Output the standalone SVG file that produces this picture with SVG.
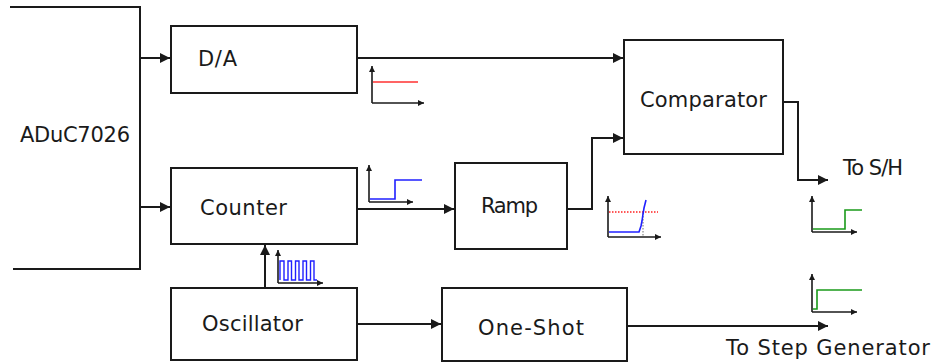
<svg xmlns="http://www.w3.org/2000/svg" width="935" height="364" viewBox="0 0 935 364">
<defs>
<style>
.box{fill:#fff;stroke:#1a1a1a;stroke-width:2}
.ln{fill:none;stroke:#1a1a1a;stroke-width:2}
.ax{fill:none;stroke:#1a1a1a;stroke-width:1.6}
.lbl{font-family:"DejaVu Sans","Liberation Sans",sans-serif;font-size:21px;fill:#1a1a1a}
</style>
<marker id="ah" viewBox="0 0 10 10" refX="10" refY="5" markerWidth="5" markerHeight="6" markerUnits="strokeWidth" orient="auto">
<path d="M0,0 L10,5 L0,10 Z" fill="#1a1a1a"/>
</marker>
<marker id="sh" viewBox="0 0 10 10" refX="10" refY="5" markerWidth="4" markerHeight="4" markerUnits="strokeWidth" orient="auto">
<path d="M0,0 L10,5 L0,10 Z" fill="#1a1a1a"/>
</marker>
</defs>
<rect width="935" height="364" fill="#fff"/>

<g id="adu">
<path class="ln" d="M10,7 H140 V269 H13"/>
<text class="lbl" x="20" y="142" textLength="110" lengthAdjust="spacing">ADuC7026</text>
</g>
<g id="da">
<rect class="box" x="171" y="26" width="186" height="67"/>
<text class="lbl" x="198" y="66" textLength="39" lengthAdjust="spacing">D/A</text>
</g>
<g id="counter">
<rect class="box" x="171" y="168" width="186" height="76"/>
<text class="lbl" x="200" y="215" textLength="87" lengthAdjust="spacing">Counter</text>
</g>
<g id="oscillator">
<rect class="box" x="171" y="288" width="186" height="72"/>
<text class="lbl" x="202" y="331" textLength="101" lengthAdjust="spacing">Oscillator</text>
</g>
<g id="ramp">
<rect class="box" x="455" y="163" width="112" height="86"/>
<text class="lbl" x="481" y="213" textLength="57" lengthAdjust="spacing">Ramp</text>
</g>
<g id="oneshot">
<rect class="box" x="442" y="288" width="185" height="73"/>
<text class="lbl" x="478" y="335" textLength="106" lengthAdjust="spacing">One-Shot</text>
</g>
<g id="comparator">
<rect class="box" x="624" y="40" width="159" height="114"/>
<text class="lbl" x="640" y="107" textLength="127" lengthAdjust="spacing">Comparator</text>
</g>

<g id="connectors">
<path class="ln" d="M140,58 H170" marker-end="url(#ah)"/>
<path class="ln" d="M140,207 H170" marker-end="url(#ah)"/>
<path class="ln" d="M357,58 H623" marker-end="url(#ah)"/>
<path class="ln" d="M357,209 H454" marker-end="url(#ah)"/>
<path class="ln" d="M567,209 H592 V138 H623" marker-end="url(#ah)"/>
<path class="ln" d="M265,288 V245" marker-end="url(#ah)"/>
<path class="ln" d="M357,324 H441" marker-end="url(#ah)"/>
<path class="ln" d="M783,102 H798 V180 H828" marker-end="url(#ah)"/>
<path class="ln" d="M627,326 H828" marker-end="url(#ah)"/>
</g>

<g id="labels">
<text class="lbl" x="843" y="175" textLength="60" lengthAdjust="spacing">To S/H</text>
<text class="lbl" x="726" y="355" textLength="204" lengthAdjust="spacing">To Step Generator</text>
</g>

<g id="graphs">
<path class="ax" d="M372,103 V66" marker-end="url(#sh)"/>
<path class="ax" d="M372,103 H424" marker-end="url(#sh)"/>
<path d="M373,82 H418" stroke="#ff3030" stroke-width="1.6" fill="none"/>
<path class="ax" d="M369,202 V165" marker-end="url(#sh)"/>
<path class="ax" d="M369,202 H413" marker-end="url(#sh)"/>
<path d="M370,199 H395 V180 H422" stroke="#2020ff" stroke-width="1.6" fill="none"/>
<path class="ax" d="M278,283 V250" marker-end="url(#sh)"/>
<path class="ax" d="M278,283 H323" marker-end="url(#sh)"/>
<path d="M280,280 V261 H284 V280 H288 V261 H291.5 V280 H295.5 V261 H299 V280 H303 V261 H306.5 V280 H310.5 V261 H314 V280 H317" stroke="#2020ff" stroke-width="1.4" fill="none"/>
<path class="ax" d="M608,237 V196" marker-end="url(#sh)"/>
<path class="ax" d="M608,237 H661" marker-end="url(#sh)"/>
<path d="M609,212 H658" stroke="#ff2020" stroke-width="1.4" stroke-dasharray="1.5,1.5" fill="none"/>
<path d="M643,213 V236" stroke="#888" stroke-width="1.2" stroke-dasharray="1.5,1.5" fill="none"/>
<path d="M609,232 H639 L641,226 L642,221 L643,214 L644,208 L645,204 L646,200" stroke="#2020ff" stroke-width="1.6" fill="none"/>
<path class="ax" d="M812,232 V196" marker-end="url(#sh)"/>
<path class="ax" d="M812,232 H857" marker-end="url(#sh)"/>
<path d="M813,229 H845 V210 H862" stroke="#1a9a1a" stroke-width="1.6" fill="none"/>
<path class="ax" d="M812,312 V274" marker-end="url(#sh)"/>
<path class="ax" d="M812,312 H857" marker-end="url(#sh)"/>
<path d="M813,309 H817 V290 H862" stroke="#1a9a1a" stroke-width="1.6" fill="none"/>
</g>
</svg>
